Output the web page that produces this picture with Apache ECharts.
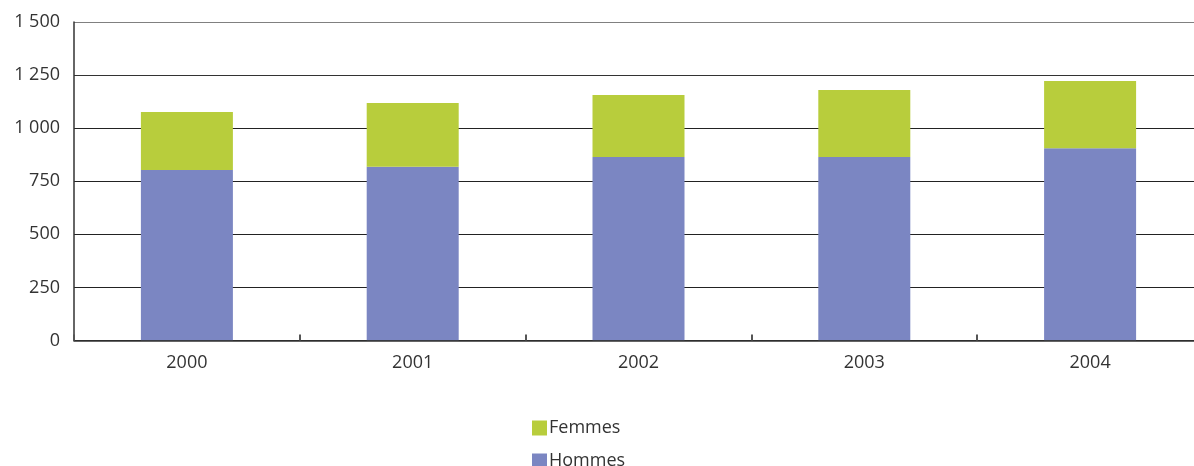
<!DOCTYPE html>
<html>
<head>
<meta charset="utf-8">
<script src="https://cdn.jsdelivr.net/npm/echarts@6/dist/echarts.min.js"></script>
<style>
html,body{margin:0;padding:0;background:#fff;}
#chart{width:1194px;height:466px;}
</style>
</head>
<body>
<div id="chart"></div>
<script>
const categories = ['2000', '2001', '2002', '2003', '2004'];
const hommes = [803, 818, 864, 864, 906];
const femmes = [273, 300, 292, 316, 316];
const yTicks = [0, 250, 500, 750, 1000, 1250, 1500];

const FONT = '"Open Sans", "Noto Sans", sans-serif';
const legendBase = {
  orient: 'vertical',
  left: 532,
  padding: 0,
  itemWidth: 15,
  itemHeight: 15,
  icon: 'rect',
  textStyle: { fontSize: 18, color: '#333', fontFamily: FONT, padding: [0, 0, 0, -3] }
};
const chart = echarts.init(document.getElementById('chart'));
chart.setOption({
  animation: false,
  textStyle: { fontFamily: FONT },
  grid: { left: 74, width: 1129, top: 22, height: 318.5, outerBoundsMode: 'none', containLabel: false },
  legend: [
    Object.assign({}, legendBase, { top: 419, data: ['Femmes'] }),
    Object.assign({}, legendBase, { top: 452, data: ['Hommes'] })
  ],
  xAxis: {
    type: 'category',
    data: categories,
    z: 5,
    axisLine: { lineStyle: { color: '#333', width: 1.5 } },
    axisTick: { show: true, inside: true, length: 6, lineStyle: { color: '#555', width: 2 } },
    axisLabel: { fontSize: 18, color: '#333', margin: 13 }
  },
  yAxis: {
    type: 'value',
    min: yTicks[0],
    max: yTicks[yTicks.length - 1],
    interval: 250,
    axisLine: { show: true, lineStyle: { color: '#333', width: 1.5 } },
    axisTick: { show: false },
    splitLine: { lineStyle: { color: ['#222', '#222', '#222', '#222', '#222', '#333', '#808080'], width: 1.2 } },
    axisLabel: {
      fontSize: 18, color: '#333', margin: 14,
      formatter: v => String(v).replace(/\B(?=(\d{3})+(?!\d))/g, ' ')
    }
  },
  series: [
    {
      name: 'Hommes', type: 'bar', stack: 'total', data: hommes,
      barWidth: 92, itemStyle: { color: '#7b86c2' }
    },
    {
      name: 'Femmes', type: 'bar', stack: 'total', data: femmes,
      barWidth: 92, itemStyle: { color: '#b8cd3c' }
    }
  ]
});
</script>
</body>
</html>
